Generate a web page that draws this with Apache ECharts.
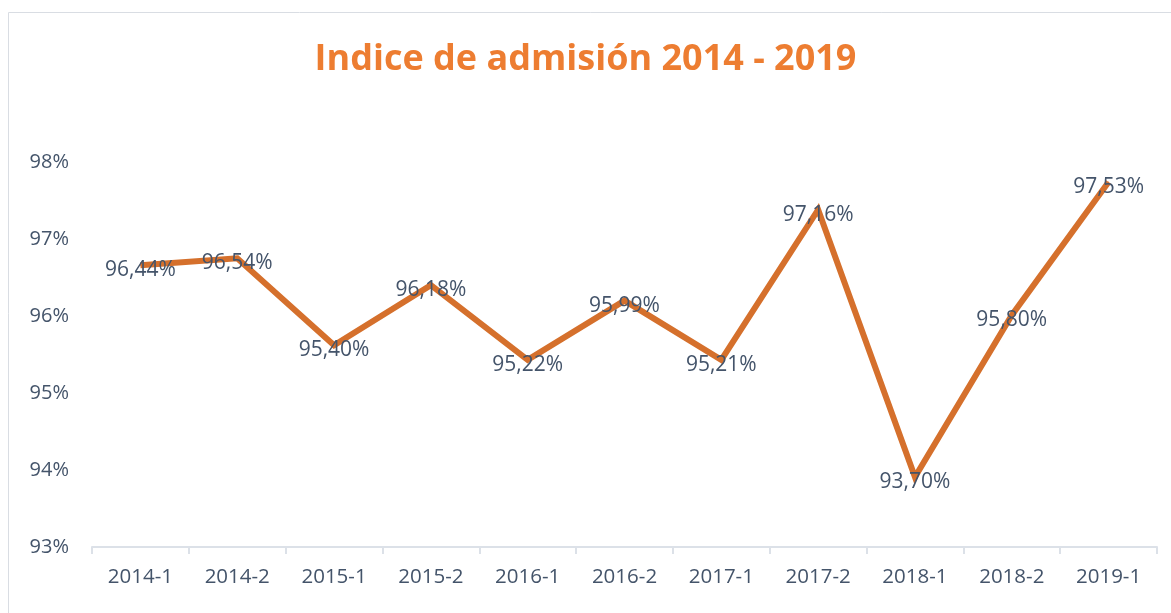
<!DOCTYPE html>
<html>
<head>
<meta charset="utf-8">
<script src="https://cdn.jsdelivr.net/npm/echarts@6/dist/echarts.min.js"></script>
<style>
  html, body { margin: 0; padding: 0; background: #fff; }
  #chart { width: 1171px; height: 613px; }
</style>
</head>
<body>
<div id="chart"></div>
<script>
// periodos
var categories = ["2014-1", "2014-2", "2015-1", "2015-2", "2016-1", "2016-2", "2017-1", "2017-2", "2018-1", "2018-2", "2019-1"];
// posición dibujada de cada punto
var values = [96.66, 96.75, 95.62, 96.40, 95.43, 96.20, 95.43, 97.38, 93.91, 96.01, 97.74];
// etiquetas de datos tal como aparecen
var pointLabels = ["96,44%", "96,54%", "95,40%", "96,18%", "95,22%", "95,99%", "95,21%", "97,16%", "93,70%", "95,80%", "97,53%"];
var yMin = 93, yMax = 98, yStep = 1;

var textColor = "#44546a";
var font = "'Open Sans', 'Noto Sans', sans-serif";

var chart = echarts.init(document.getElementById("chart"));
chart.setOption({
  animation: false,
  title: {
    text: "Indice de admisión 2014 - 2019",
    left: "center",
    top: 37,
    textStyle: { color: "#ED7D31", fontSize: 36, fontWeight: "bold", fontFamily: font }
  },
  // marco del gráfico
  graphic: [{
    type: "rect",
    shape: { x: 8.5, y: 12.5, width: 1200, height: 700 },
    style: { fill: null, stroke: "#d9dde3", lineWidth: 1 },
    silent: true
  }],
  grid: { left: 92, right: 14, top: 162, bottom: 66 },
  xAxis: {
    type: "category",
    data: categories,
    boundaryGap: true,
    axisLine: { lineStyle: { color: "#dce1e8", width: 2 } },
    axisTick: { show: true, length: 7, lineStyle: { color: "#dce1e8", width: 2 } },
    axisLabel: { color: textColor, fontSize: 20.5, fontFamily: font, margin: 20 }
  },
  yAxis: {
    type: "value",
    min: yMin,
    max: yMax,
    interval: yStep,
    axisLine: { show: false },
    axisTick: { show: false },
    splitLine: { show: false },
    axisLabel: { color: textColor, fontSize: 20, fontFamily: font, margin: 23, formatter: "{value}%" }
  },
  series: [{
    type: "line",
    data: values,
    symbol: "circle",
    symbolSize: 1,
    itemStyle: { color: "#D5702C" },
    lineStyle: { color: "#D5702C", width: 6, join: "miter" },
    label: {
      show: true,
      position: "top",
      distance: 0,
      offset: [0, 16],
      color: textColor,
      fontSize: 21,
      fontFamily: font,
      formatter: function (p) { return pointLabels[p.dataIndex]; }
    }
  }]
});
</script>
</body>
</html>
